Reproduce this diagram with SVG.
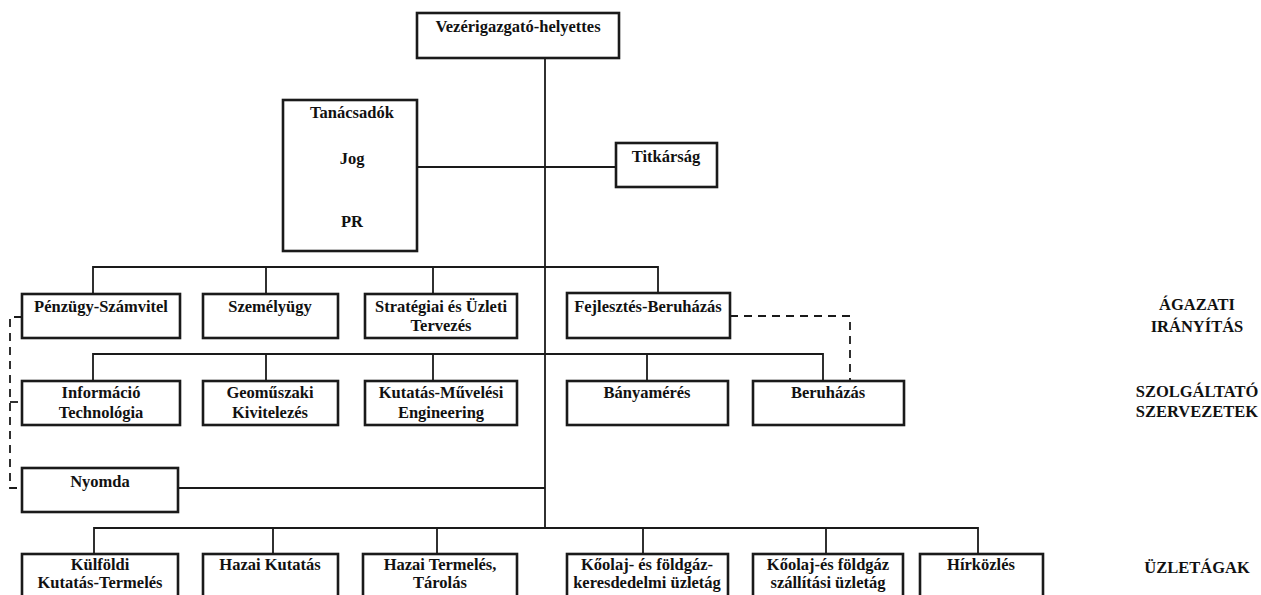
<svg xmlns="http://www.w3.org/2000/svg" width="1261" height="595" viewBox="0 0 1261 595">
<style>
.box{fill:#fff;stroke:#1a1a1a;stroke-width:2.6}
.ln{fill:none;stroke:#1a1a1a;stroke-width:1.8}
.dash{fill:none;stroke:#1a1a1a;stroke-width:1.8;stroke-dasharray:8 6}
text{font-family:"Liberation Serif","Times New Roman",serif;font-size:16.5px;font-weight:bold;fill:#111;text-anchor:middle}
.lab{font-size:16.5px}
</style>
<rect width="1261" height="595" fill="#fff"/>
<g id="connectors">
<line class="ln" x1="545" y1="58" x2="545" y2="528"/>
<line class="ln" x1="417" y1="167" x2="616" y2="167"/>
<polyline class="ln" points="93,294 93,267 658,267 658,293"/>
<line class="ln" x1="266" y1="267" x2="266" y2="294"/>
<line class="ln" x1="433" y1="267" x2="433" y2="294"/>
<polyline class="ln" points="93,381 93,354 823,354 823,381"/>
<line class="ln" x1="266" y1="354" x2="266" y2="381"/>
<line class="ln" x1="433" y1="354" x2="433" y2="381"/>
<line class="ln" x1="647" y1="354" x2="647" y2="381"/>
<line class="ln" x1="178" y1="488" x2="545" y2="488"/>
<polyline class="ln" points="94,554 94,528 978,528 978,554"/>
<line class="ln" x1="273" y1="528" x2="273" y2="554"/>
<line class="ln" x1="437" y1="528" x2="437" y2="554"/>
<line class="ln" x1="643" y1="528" x2="643" y2="554"/>
<line class="ln" x1="826" y1="528" x2="826" y2="554"/>
<polyline class="dash" points="730,316 850,316 850,381"/>
<polyline class="dash" points="22,317 10,317 10,488 22,488"/>
<line class="dash" x1="10" y1="402" x2="22" y2="402"/>
</g>
<g id="n-vezer"><rect class="box" x="417" y="13" width="202" height="45"/><text x="518" y="32">Vezérigazgató-helyettes</text></g>
<g id="n-tanacsadok"><rect class="box" x="283" y="100" width="134" height="151"/><text x="352" y="118">Tanácsadók</text><text x="352" y="164">Jog</text><text x="352" y="227">PR</text></g>
<g id="n-titkarsag"><rect class="box" x="616" y="143" width="101" height="44"/><text x="666" y="162">Titkárság</text></g>
<g id="n-penzugy"><rect class="box" x="22" y="294" width="158" height="44"/><text x="101" y="312">Pénzügy-Számvitel</text></g>
<g id="n-szemelyugy"><rect class="box" x="203" y="294" width="135" height="44"/><text x="270" y="312">Személyügy</text></g>
<g id="n-strategiai"><rect class="box" x="365" y="294" width="152" height="44"/><text x="441" y="312">Stratégiai és Üzleti</text><text x="441" y="331">Tervezés</text></g>
<g id="n-fejlesztes"><rect class="box" x="567" y="293" width="163" height="45"/><text x="648" y="312">Fejlesztés-Beruházás</text></g>
<g id="n-informacio"><rect class="box" x="22" y="381" width="158" height="44"/><text x="101" y="398">Információ</text><text x="101" y="418">Technológia</text></g>
<g id="n-geomuszaki"><rect class="box" x="203" y="381" width="135" height="44"/><text x="270" y="398">Geoműszaki</text><text x="270" y="418">Kivitelezés</text></g>
<g id="n-kutatas"><rect class="box" x="365" y="381" width="152" height="44"/><text x="441" y="398">Kutatás-Művelési</text><text x="441" y="418">Engineering</text></g>
<g id="n-banyameres"><rect class="box" x="567" y="381" width="161" height="44"/><text x="647" y="398">Bányamérés</text></g>
<g id="n-beruhazas"><rect class="box" x="753" y="381" width="151" height="44"/><text x="828" y="398">Beruházás</text></g>
<g id="n-nyomda"><rect class="box" x="22" y="468" width="156" height="44"/><text x="100" y="487">Nyomda</text></g>
<g id="n-kulfoldi"><rect class="box" x="22" y="554" width="156" height="70"/><text x="100" y="570">Külföldi</text><text x="100" y="588">Kutatás-Termelés</text></g>
<g id="n-hazai-kutatas"><rect class="box" x="203" y="554" width="135" height="70"/><text x="270" y="570">Hazai Kutatás</text></g>
<g id="n-hazai-termeles"><rect class="box" x="363" y="554" width="154" height="70"/><text x="440" y="570">Hazai Termelés,</text><text x="440" y="588">Tárolás</text></g>
<g id="n-keresk"><rect class="box" x="567" y="554" width="161" height="70"/><text x="647" y="570">Kőolaj- és földgáz-</text><text x="647" y="588">keresdedelmi üzletág</text></g>
<g id="n-szallitasi"><rect class="box" x="753" y="554" width="150" height="70"/><text x="828" y="570">Kőolaj-és földgáz</text><text x="828" y="588">szállítási üzletág</text></g>
<g id="n-hirkozles"><rect class="box" x="920" y="554" width="123" height="70"/><text x="981" y="570">Hírközlés</text></g>
<g id="labels">
<text class="lab" x="1197" y="310">ÁGAZATI</text>
<text class="lab" x="1197" y="332">IRÁNYÍTÁS</text>
<text class="lab" x="1197" y="397">SZOLGÁLTATÓ</text>
<text class="lab" x="1197" y="417">SZERVEZETEK</text>
<text class="lab" x="1197" y="573">ÜZLETÁGAK</text>
</g>
</svg>
